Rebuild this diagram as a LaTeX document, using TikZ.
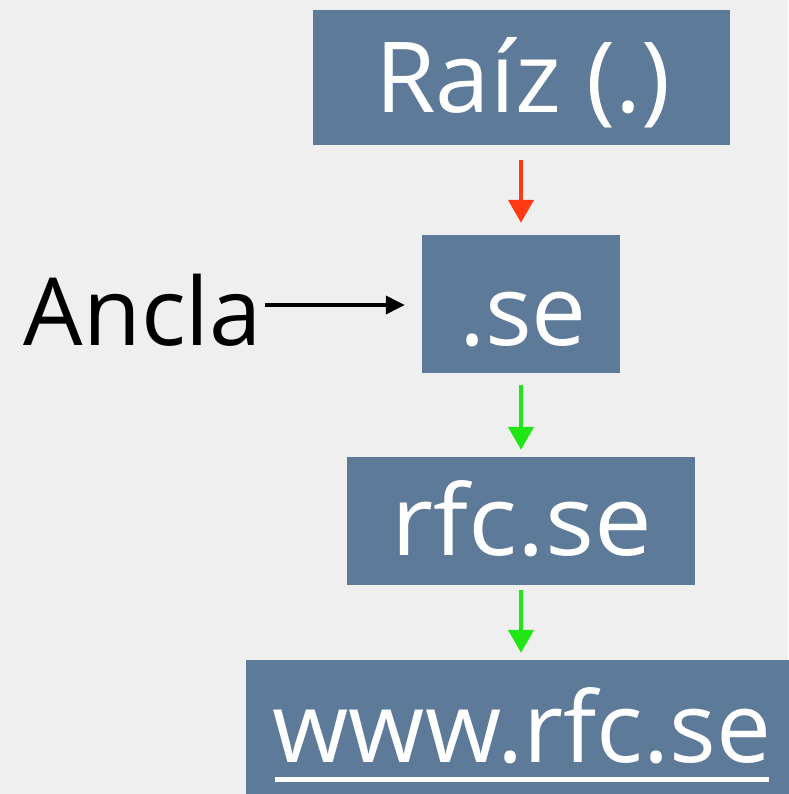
\documentclass[tikz,border=0pt]{standalone}
\usepackage{fontspec}
\setmainfont{Open Sans}
\usetikzlibrary{arrows.meta}

\definecolor{paper}{HTML}{EFEFEF}
\definecolor{slate}{HTML}{5D7A99}
\definecolor{rootred}{HTML}{FF3A14}
\definecolor{trustgreen}{HTML}{1FE614}

\tikzset{
  zonebox/.style={fill=slate, draw=none, inner sep=0pt},
  zonelabel/.style={text=white, inner sep=0pt, anchor=base,
    font=\fontsize{98}{110}\selectfont},
  chainarrow/.style={line width=4.5pt,
    -{Triangle[length=23pt,width=25pt]}},
  anchorarrow/.style={line width=3.5pt, black,
    -{Triangle[length=19pt,width=18pt]}}
}

\begin{document}
\begin{tikzpicture}[x=1pt,y=-1pt]
  \useasboundingbox (0,0) rectangle (788,794);
  \fill[paper] (0,0) rectangle (788,794);

  % zone boxes
  \node[zonebox, minimum width=417pt, minimum height=135pt] (root) at (521.5,77.5) {};
  \node[zonebox, minimum width=198pt, minimum height=138pt] (se)   at (521,304) {};
  \node[zonebox, minimum width=348pt, minimum height=128pt] (rfc)  at (521,521) {};
  \node[zonebox, minimum width=546pt, minimum height=140pt] (www)  at (519,730) {};

  % zone names
  \node[zonelabel] (rootT) at (523,113) {Raíz (.)};
  \node[zonelabel] (seT)   at (523,345) {.se};
  \node[zonelabel, xscale=1.05] (rfcT) at (522,555) {rfc.se};
  \node[zonelabel] (wwwT)  at (522,762) {www.rfc.se};
  \draw[white, line width=5pt]
    ([xshift=2pt,yshift=-17pt]wwwT.base west) -- ([xshift=-2pt,yshift=-17pt]wwwT.base east);

  % trust anchor label
  \node[inner sep=0pt, anchor=base east, text height=80pt, text depth=0pt,
        font=\fontsize{94}{106}\selectfont] (ancla) at (262,345) {Ancla};

  % delegation chain
  \draw[chainarrow, rootred, shorten <=15pt, shorten >=12pt]
    (root.south -| se.north) -- (se.north);
  \draw[chainarrow, trustgreen, shorten <=12pt, shorten >=7pt]
    (se.south) -- (se.south |- rfc.north);
  \draw[chainarrow, trustgreen, shorten <=5pt, shorten >=7pt]
    (rfc.south) -- (rfc.south |- www.north);

  % anchor pointer
  \draw[anchorarrow, shorten <=3pt, shorten >=17pt] (ancla.east) -- (ancla.east -| se.west);
\end{tikzpicture}
\end{document}
